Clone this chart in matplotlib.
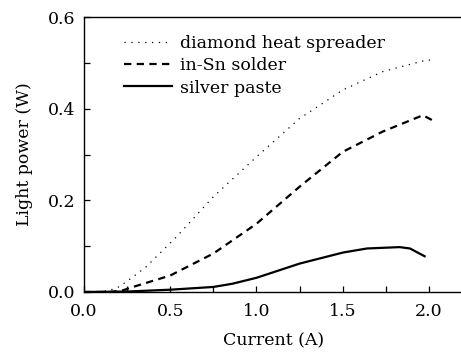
import matplotlib
matplotlib.use("Agg")
import matplotlib.pyplot as plt
from matplotlib.ticker import MultipleLocator, FormatStrFormatter

plt.rcParams['font.family'] = ['DejaVu Serif']
plt.rcParams['mathtext.fontset'] = 'dejavuserif'

# diamond heat spreader (dotted)
x_diamond = [0.0, 0.10, 0.15, 0.20, 0.245, 0.36, 0.535, 0.75, 1.0, 1.25, 1.5, 1.73, 1.99, 2.03]
y_diamond = [0.0, 0.001, 0.004, 0.011, 0.022, 0.055, 0.12, 0.208, 0.295, 0.379, 0.441, 0.481, 0.507, 0.505]

# in-Sn solder (dashed)
x_insn = [0.0, 0.15, 0.22, 0.284, 0.5, 0.75, 1.0, 1.25, 1.5, 1.73, 1.965, 2.02]
y_insn = [0.0, 0.0, 0.003, 0.011, 0.036, 0.084, 0.149, 0.23, 0.306, 0.35, 0.386, 0.375]

# silver paste (solid)
x_silver = [0.0, 0.25, 0.5, 0.75, 0.86, 1.0, 1.25, 1.5, 1.64, 1.83, 1.89, 1.975]
y_silver = [0.0, 0.001, 0.005, 0.011, 0.018, 0.031, 0.062, 0.086, 0.095, 0.098, 0.095, 0.078]

labels = ["diamond heat spreader", "in-Sn solder", "silver paste"]

fig = plt.figure(figsize=(4.61, 3.52), dpi=100)
ax = fig.add_axes([0.1823, 0.1705, 0.823, 0.7805])

ax.plot(x_diamond, y_diamond, color='black', lw=0.9, dashes=(1, 4.5), label=labels[0])
ax.plot(x_insn, y_insn, color='black', lw=1.6, dashes=(3.3, 2.4), label=labels[1])
ax.plot(x_silver, y_silver, color='black', lw=1.6, ls='-', label=labels[2])

ax.set_xlim(0, 2.2)
ax.set_ylim(0, 0.6)
ax.xaxis.set_major_locator(MultipleLocator(0.5))
ax.xaxis.set_minor_locator(MultipleLocator(0.25))
ax.yaxis.set_major_locator(MultipleLocator(0.2))
ax.yaxis.set_minor_locator(MultipleLocator(0.1))
ax.xaxis.set_major_formatter(FormatStrFormatter('%.1f'))
ax.yaxis.set_major_formatter(FormatStrFormatter('%.1f'))
ax.tick_params(which='both', direction='in', length=4, width=0.9, labelsize=12.5,
               top=False, right=False)
ax.tick_params(axis='x', which='major', pad=8)
ax.tick_params(axis='y', which='major', pad=6)
for s in ax.spines.values():
    s.set_linewidth(1.0)

ax.set_xlabel("Current (A)", fontsize=12.5, labelpad=9)
ax.set_ylabel("Light power (W)", fontsize=12.5, labelpad=11)

leg = ax.legend(loc='upper left', bbox_to_anchor=(0.105, 0.935), frameon=False,
                fontsize=12.5, handlelength=2.8, handletextpad=0.45,
                labelspacing=0.3, borderpad=0.0, borderaxespad=0.0)

fig.savefig("out.png", dpi=100)
